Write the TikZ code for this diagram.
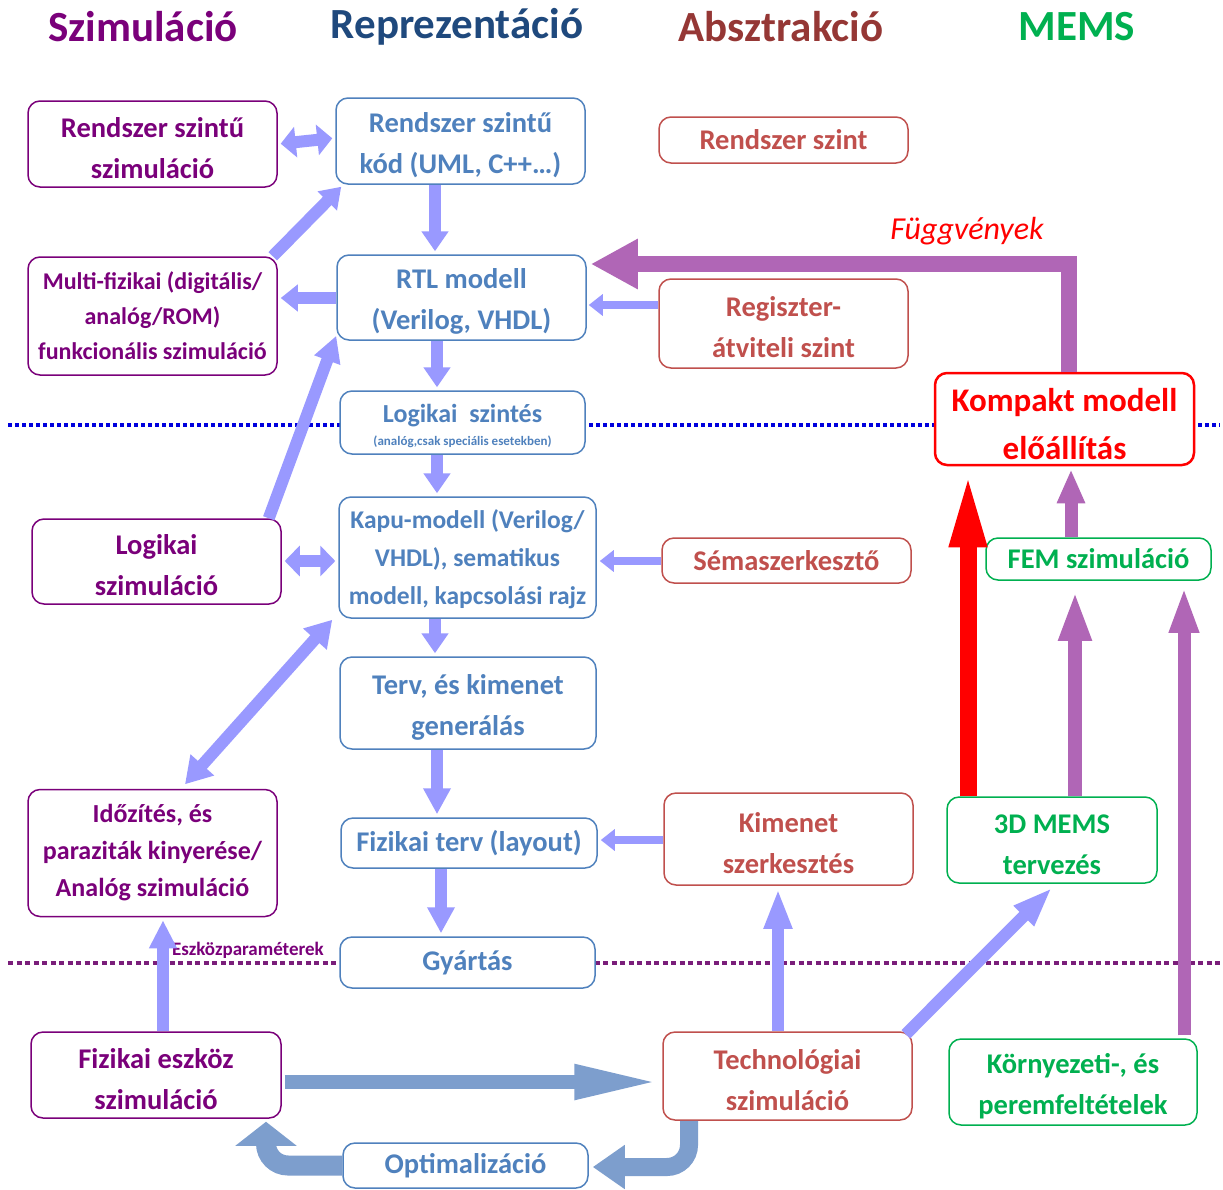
\documentclass[tikz,border=0pt]{standalone}
\usepackage{fontspec}
\setmainfont{Carlito}
\usetikzlibrary{arrows.meta}

\definecolor{szimszin}{RGB}{122,0,122}
\definecolor{repszin}{RGB}{79,129,189}
\definecolor{repcim}{RGB}{31,73,125}
\definecolor{absszin}{RGB}{192,80,77}
\definecolor{abscim}{RGB}{149,55,53}
\definecolor{memsszin}{RGB}{0,176,80}
\definecolor{nyilszin}{RGB}{153,153,255}
\definecolor{lilaszin}{RGB}{176,102,182}
\definecolor{satirszin}{RGB}{125,158,205}
\definecolor{pontkek}{RGB}{0,0,221}
\definecolor{pontlila}{RGB}{122,30,122}

% elso sor kitamasztasa
\newcommand{\felso}{\rule{0pt}{0.98em}}

\tikzset{
  doboz/.style={draw, fill=white, rounded corners=12pt, line width=1.5pt, align=center,
    inner sep=0pt, font=\fontsize{28.5}{41}\selectfont\bfseries},
  meret/.style 2 args={minimum width=#1pt, minimum height=#2pt},
  szim/.style={doboz, draw=szimszin, text=szimszin},
  rep/.style={doboz, draw=repszin, text=repszin},
  absz/.style={doboz, draw=absszin, text=absszin},
  mems/.style={doboz, draw=memsszin, text=memsszin},
  cim/.style={font=\fontsize{43}{50}\selectfont\bfseries},
  nyil/.style={draw=nyilszin, line width=12pt, -{Triangle[length=#1,width=26pt]}},
  nyil/.default=20pt,
  ketnyil/.style={draw=nyilszin, line width=12pt,
    {Triangle[length=#1,width=30pt]}-{Triangle[length=#1,width=30pt]}},
  ketnyil/.default=15pt,
  vekonynyil/.style={draw=nyilszin, line width=8pt, -{Triangle[length=14pt,width=21pt]}},
  satirnyil/.style={draw=satirszin, line width=14pt, -{Triangle[length=85pt,width=32pt]}},
}

\begin{document}
\begin{tikzpicture}[x=1pt, y=-1pt]
  \fill[white] (0,0) rectangle (1223,1189);
  \useasboundingbox (0,0) rectangle (1223,1189);

  % Oszlopcimek
  \node[cim, text=szimszin] (tszim) at (143,27) {Szimuláció};
  \node[cim, text=repcim] (trep) at (457,27) {Reprezentáció};
  \node[cim, text=abscim] (tabs) at (781,27) {Absztrakció};
  \node[cim, text=memsszin] (tmems) at (1077,27) {MEMS};

  % Pontozott vonalak
  \draw[pontkek, line width=4pt, dash pattern=on 4pt off 3pt] (8,425) -- (1220,425);
  \draw[pontlila, line width=4.5pt, dash pattern=on 5pt off 3.5pt] (8,963) -- (1220,963);

  % Szimulacio oszlop
  \node[szim, meret={249}{86}] (rszim) at (152.5,144) {\felso Rendszer szintű\\szimuláció};
  \node[szim, meret={249}{118}, font=\fontsize{24}{35}\selectfont\bfseries] (multi) at (152.5,316)
    {Multi-fizikai (digitális/\\analóg/ROM)\\funkcionális szimuláció};
  \node[szim, meret={249}{85}] (lszim) at (156.5,561.5) {\felso Logikai\\szimuláció};
  \node[szim, meret={249}{127}, font=\fontsize{26}{37}\selectfont\bfseries] (idoz) at (152.5,853)
    {Időzítés, és\\paraziták kinyerése/\\Analóg szimuláció};
  \node[szim, meret={250}{86}] (feszk) at (156,1075) {\felso Fizikai eszköz\\szimuláció};

  % Reprezentacio oszlop
  \node[rep, meret={249}{86}] (rkod) at (460.5,141) {\felso Rendszer szintű\\kód (UML, C++…)};
  \node[rep, meret={249}{85}] (rtl) at (461.5,297.5) {\felso RTL modell\\(Verilog, VHDL)};
  \node[rep, meret={245}{63}, font=\fontsize{26}{30}\selectfont\bfseries] (lszint) at (462.5,422.5)
    {\felso Logikai\ \ szintés\\[-7pt]{\fontsize{13}{15}\selectfont (analóg,csak speciális esetekben)}};
  \node[rep, meret={257}{121}, font=\fontsize{25.5}{38}\selectfont\bfseries] (kapu) at (467.5,557.5)
    {\rule{0pt}{0.9em}Kapu-modell (Verilog/\\VHDL), sematikus\\modell, kapcsolási rajz};
  \node[rep, meret={256}{92}] (terv) at (468,703) {\felso Terv, és kimenet\\generálás};
  \node[rep, meret={256}{50}] (fterv) at (469,843) {Fizikai terv (layout)};
  \node[rep, meret={255}{51}] (gyartas) at (467.5,962.5) {Gyártás};
  \node[rep, meret={245}{45}] (optim) at (465.5,1165.5) {Optimalizáció};

  % Absztrakcio oszlop
  \node[absz, meret={249}{46}] (rszint) at (783.5,140) {Rendszer szint};
  \node[absz, meret={249}{89}] (regiszter) at (783.5,323.5) {\felso Regiszter-\\átviteli szint};
  \node[absz, meret={249}{45}] (sema) at (786.5,560.5) {Sémaszerkesztő};
  \node[absz, meret={249}{92}] (kimenet) at (788.5,839) {\felso Kimenet\\szerkesztés};
  \node[absz, meret={249}{88}] (tech) at (787.5,1076) {\felso Technológiai\\szimuláció};

  % MEMS oszlop
  \node[doboz, draw=red, text=red, line width=2.5pt, meret={259}{92},
    font=\fontsize{33}{48}\selectfont\bfseries] (kompakt) at (1064.5,419) {\felso Kompakt modell\\előállítás};
  \node[mems, meret={225}{42}] (fem) at (1098.5,559) {FEM szimuláció};
  \node[mems, meret={210}{86}] (mems3d) at (1052,840) {\felso 3D MEMS\\tervezés};
  \node[mems, meret={248}{86}] (korny) at (1073,1082) {\felso Környezeti-, és\\peremfeltételek};

  % Feliratok
  \node[text=red, font=\fontsize{32}{36}\selectfont\itshape] (fvlabel) at (967,231) {Függvények};
  \node[text=szimszin, font=\fontsize{19}{21}\selectfont\bfseries] (eszkp) at (248,950) {Eszközparaméterek};

  % Tervezesi folyam
  \draw[ketnyil, shorten <=3pt, shorten >=3pt] (rszim.east) -- ([yshift=3pt]rkod.west);
  \draw[nyil, shorten >=3pt] ([xshift=-25.5pt]rkod.south) -- ([xshift=-26.5pt]rtl.north);
  \draw[nyil] ([xshift=-5pt]multi.north east) -- ([xshift=6pt,yshift=-2pt]rkod.south west);
  \draw[nyil=17pt, shorten >=3pt] ([yshift=-0.5pt]rtl.west) -- ([yshift=18pt]multi.east);
  \draw[vekonynyil, shorten >=2pt] ([yshift=18.5pt]regiszter.west) -- ([yshift=-7.5pt]rtl.east);
  \draw[nyil, shorten >=3pt] ([xshift=-24.5pt]rtl.south) -- ([xshift=-25.5pt]lszint.north);
  \draw[nyil, shorten >=3pt] ([xshift=-25.5pt]lszint.south) -- ([xshift=-30.5pt]kapu.north);
  \draw[nyil=26pt] ([xshift=-13pt]lszim.north east) -- ([yshift=5pt]rtl.south west);
  \draw[ketnyil, shorten <=3pt, shorten >=3pt] ([yshift=0.5pt]lszim.east) -- ([yshift=-3.5pt]kapu.west);
  \draw[vekonynyil, shorten >=3pt] ([yshift=-0.5pt]sema.west) -- ([yshift=-3.5pt]kapu.east);
  \draw[nyil, shorten >=3pt] ([xshift=-32.5pt]kapu.south) -- ([xshift=-33pt]terv.north);
  \draw[ketnyil=26pt] ([xshift=-6pt,yshift=-1pt]kapu.south west) -- ([xshift=32.5pt,yshift=4.5pt]idoz.north);
  \draw[nyil=26pt, shorten >=3pt] ([xshift=-31pt]terv.south) -- ([xshift=-32pt]fterv.north);
  \draw[vekonynyil, shorten >=3pt] ([yshift=-1pt]kimenet.west) -- ([yshift=3pt]fterv.east);
  \draw[nyil=26pt, shorten >=3pt] ([xshift=-28pt]fterv.south) -- ([xshift=-26.5pt]gyartas.north);
  \draw[nyil=28pt, shorten >=3pt] ([xshift=7pt]feszk.north) -- ([xshift=10.5pt]idoz.south);
  \draw[nyil=40pt, shorten >=3pt] ([xshift=-9.5pt]tech.north) -- ([xshift=-10.5pt]kimenet.south);
  \draw[nyil=40pt] ([xshift=-7pt,yshift=-3pt]tech.north east) -- ([yshift=-4pt]mems3d.south);

  % Optimalizacios hurok
  \draw[satirnyil, shorten <=3pt, shorten >=3pt] ([yshift=-7pt]feszk.east) -- ([yshift=-6pt]tech.west);
  \draw[draw=satirszin, line width=18pt, rounded corners=22pt, -{Triangle[length=32pt,width=42pt]}]
    ([xshift=-98.5pt]tech.south) |- ([xshift=4pt,yshift=-1.5pt]optim.east);
  \draw[draw=satirszin, line width=20pt, rounded corners=22pt, -{Triangle[length=24pt,width=60pt]}]
    (optim.west) -| ([xshift=110pt,yshift=-3pt]feszk.south);

  % MEMS nyilak
  \draw[draw=lilaszin, line width=16pt, -{Triangle[length=47pt,width=47pt]}]
    ([xshift=4.5pt]kompakt.north) |- ([xshift=4pt,yshift=33.5pt]rtl.east);
  \draw[draw=red, line width=17pt, -{Triangle[length=78pt,width=33pt]}]
    ([xshift=-84pt]mems3d.north) -- ([xshift=-96.5pt,yshift=-3pt]kompakt.south);
  \draw[draw=lilaszin, line width=13pt, -{Triangle[length=34pt,width=26pt]}]
    ([xshift=-27.5pt]fem.north) -- ([xshift=6.5pt,yshift=-3pt]kompakt.south);
  \draw[draw=lilaszin, line width=14.5pt, -{Triangle[length=50pt,width=30pt]}]
    ([xshift=23pt]mems3d.north) -- ([xshift=-23.5pt,yshift=-10pt]fem.south);
  \draw[draw=lilaszin, line width=13pt, -{Triangle[length=46pt,width=27pt]}]
    ([xshift=111pt,yshift=3pt]korny.north) -- ([xshift=85.5pt,yshift=-6pt]fem.south);
\end{tikzpicture}
\end{document}
